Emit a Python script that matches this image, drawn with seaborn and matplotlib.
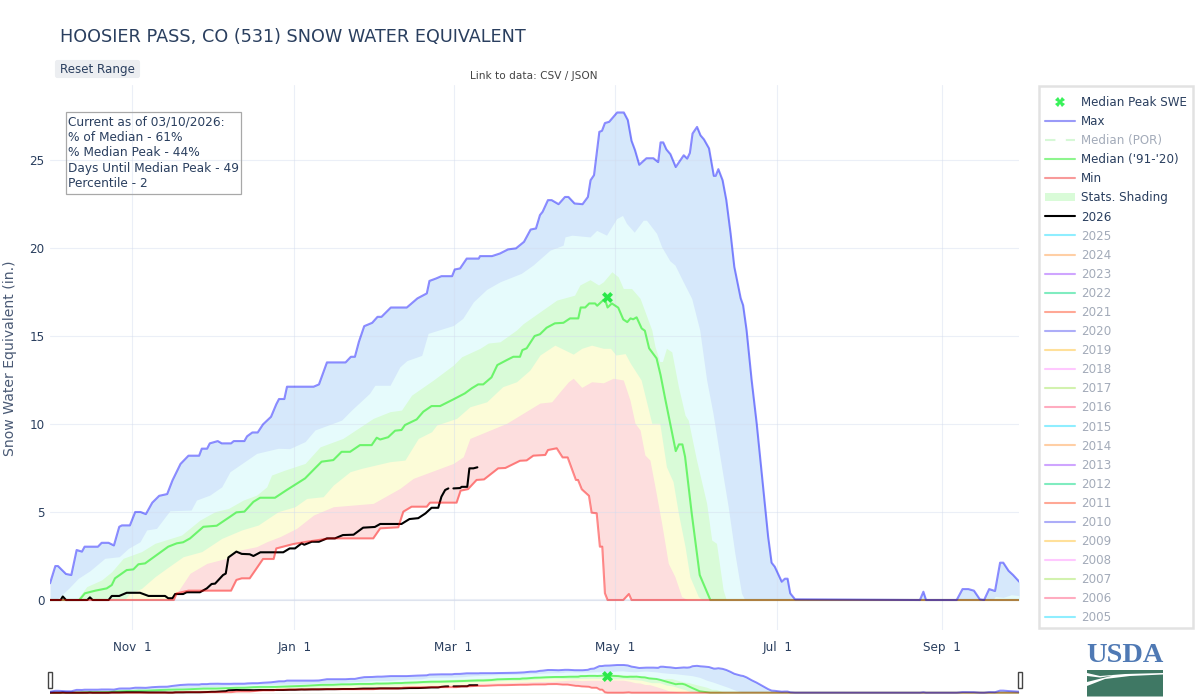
import numpy as np
import pandas as pd
import seaborn as sns
import matplotlib
matplotlib.use("Agg")
import matplotlib.pyplot as plt
from matplotlib.lines import Line2D
from matplotlib.patches import Patch, Polygon, Rectangle, FancyBboxPatch

# (day since Oct 1, inches of SWE)
MAX_SWE = [(0,.95),(2,1.93),(3,1.93),(6,1.48),(8,1.42),(10,2.84),(12,2.75),(13,3.03),(18,3.03),(19.4,3.25),(22,3.25),(24,3.1),(26,4.16),(27,4.24),(30,4.24),(32,5.0),(34,5.0),(36,4.88),(38.4,5.53),(41,5.92),(44,6.02),(46,6.8),(49,7.73),(52,8.2),(56,8.2),(57,8.6),(59,8.6),(60,8.9),(63,9.03),(64.5,8.9),(68,8.9),(69,9.03),(73,9.03),(74,9.3),(76,9.52),(78,9.52),(80,9.98),(83,10.41),(85,11.13),(86,11.42),(88,11.42),(89,12.12),(99,12.12),(101,12.25),(104,13.5),(111,13.5),(113,13.82),(114.5,13.82),(116,14.67),(118,15.56),(121,15.75),(123,16.09),(124.5,16.09),(128,16.62),(134,16.62),(138,17.14),(141.5,17.42),(142.5,18.13),(145,18.27),(147,18.4),(151,18.4),(152,18.78),(154,18.84),(156.5,19.4),(161,19.4),(161.5,19.54),(166,19.54),(169,19.69),(172,19.92),(175,19.98),(178,20.35),(180.5,21.05),(182.5,21.11),(184,21.87),(185,22.06),(187,22.72),(188.4,22.72),(191,22.49),(193.4,22.9),(194.7,22.9),(197,22.53),(200,22.49),(202,22.9),(203,23.85),(204.3,24.14),(205.3,25.37),(206.3,26.6),(207.3,26.66),(208.4,27.1),(210,27.17),(213,27.7),(215.5,27.7),(217,27.27),(218.4,26.09),(219.7,25.56),(221.3,24.73),(224,25.1),(226.6,25.1),(228.4,24.88),(229.3,26.0),(230.3,26.0),(231.5,25.6),(233,25.33),(235,24.6),(238,25.27),(239.3,25.08),(240.3,25.4),(241.3,26.5),(243,26.88),(244.3,26.4),(245.6,26.17),(247.5,25.66),(249.3,24.1),(250,24.1),(251,24.48),(252.6,23.85),(254,22.72),(255.6,20.83),(257,18.93),(259.4,17.14),(260.3,16.75),(261.6,15.34),(263.5,12.5),(265.4,10.04),(269.7,3.6),(271,2.12),(272.2,1.89),(274.8,1.04),(276,1.21),(277,1.21),(278,.38),(279.8,.04),(326.7,0),(328,.47),(329,0),(340.5,0),(342.7,.62),(344.9,.62),(347,.53),(349.2,.04),(350.8,0),(352.7,.62),(354.9,.51),(356.8,2.12),(358,2.12),(360,1.66),(361.7,1.42),(364,1.04)]
P90_SWE = [(0,0),(3,.1),(7,.66),(10.6,1.23),(15,1.66),(20.6,2.37),(26,2.46),(29.4,2.93),(33.8,3.31),(36.3,3.98),(40,4.07),(45,5.07),(53,5.11),(55,5.68),(60,5.96),(64.5,6.43),(67.6,7.29),(73,7.85),(77.6,8.33),(85.7,8.62),(90,8.6),(95.8,9.0),(99.5,9.66),(109.5,10.22),(113.3,10.8),(120,11.74),(122,12.2),(127.7,12.2),(131.4,13.25),(134,13.6),(139.6,13.9),(142,15.15),(151.5,15.6),(155,16.0),(159,16.94),(164,17.65),(169,18.08),(177,18.56),(181.4,19.03),(187.8,19.88),(192.7,20.16),(193.4,20.63),(196,20.73),(202.8,20.63),(205.3,21.0),(209,20.73),(212.8,21.67),(215,21.85),(216.5,21.4),(219.4,20.9),(222.8,21.58),(224,21.58),(227.8,20.83),(229.7,20.07),(232.8,19.27),(234.7,19.03),(237.8,18.08),(241,17.13),(244,15.34),(246.6,12.5),(249,10.6),(251.6,8.14),(254.7,5.3),(257.2,2.65),(259.7,.38),(261,0),(354,0),(355,.2),(358,.15),(361,.3),(364,.25)]
P70_SWE = [(0,0),(10,0),(13.8,.76),(19.4,1.14),(23.2,1.61),(27.5,2.37),(34.4,2.75),(39.4,3.22),(49.4,3.69),(56.3,4.54),(62,5.02),(67,5.2),(72.6,5.68),(77.6,5.96),(81.4,6.43),(83.2,7.1),(88.2,7.38),(95.8,7.76),(101.4,8.7),(110,9.18),(121.4,10.32),(127.7,10.7),(132,10.79),(135.8,11.64),(144,12.5),(151.5,13.35),(154.6,13.82),(161.5,14.3),(164.6,14.6),(169,14.67),(175.2,15.34),(177.7,15.7),(184,16.37),(190.3,17.04),(197,17.32),(199,17.9),(202.8,18.2),(206,17.9),(207.8,18.08),(211,18.65),(213.4,18.36),(215.3,17.7),(218.4,17.7),(221.6,17.14),(226,15.34),(227.2,14.4),(229,13.55),(230,13.55),(231.5,14.3),(233.5,14.1),(236,12.12),(238.5,10.5),(239.7,10.22),(242.8,7.95),(246.6,5.49),(248.5,3.41),(250.3,3.22),(252.8,.57),(254,0),(364,0)]
P30_SWE = [(0,0),(28,0),(30,.38),(34.4,.66),(39.4,1.32),(43.8,1.8),(50,2.46),(57,2.75),(64.5,3.5),(72,3.98),(78.2,4.26),(85.7,5.02),(92,5.3),(96.4,5.77),(102.6,5.87),(106.4,6.53),(112.7,7.29),(117,7.48),(127.7,7.86),(133.3,7.95),(138.3,9.18),(143.3,9.56),(145.2,9.94),(152.7,10.32),(157.7,10.98),(164,11.26),(170,12.12),(175.2,12.4),(180.2,13.06),(184,13.92),(189.6,14.48),(196.5,13.97),(199.7,14.3),(203.4,14.48),(207.8,14.3),(210.5,14.3),(212.5,13.92),(216,14.0),(218,13.44),(222,12.5),(226,10.04),(229,10.04),(231.5,7.57),(234,6.72),(236,4.92),(238.5,3.03),(240.3,1.32),(243.5,.19),(245,0),(364,0)]
P10_SWE = [(0,0),(46,0),(47.6,.38),(52.6,1.52),(58.9,2.08),(66.3,2.37),(71.4,2.84),(77.6,3.03),(81.4,3.31),(86.4,3.6),(92.6,4.07),(99,4.83),(106.4,5.3),(121.4,5.49),(131.4,6.34),(136.4,6.91),(151.5,7.76),(155.2,8.14),(157.7,9.18),(171.5,10.04),(184,11.19),(188.4,11.26),(191.5,11.83),(194.7,12.4),(196.5,12.6),(199.7,12.08),(203.4,12.4),(207.8,12.34),(211.5,12.6),(215.3,12.5),(217.8,11.36),(219.7,10.04),(221.6,9.66),(223.4,8.24),(225.3,7.95),(227.2,6.43),(229.7,4.36),(232.2,2.08),(234.7,1.32),(237.2,.19),(239.6,0),(364,0)]
MEDIAN_SWE = [(0,0),(11,0),(13.1,.38),(17,.53),(21.3,.66),(23.2,.85),(24.4,1.23),(28.8,1.7),(31.3,1.74),(33.2,2.03),(35.7,2.08),(44.4,3.03),(47.6,3.22),(50,3.28),(52.6,3.5),(57.6,4.16),(62.6,4.22),(67.6,4.73),(70,4.98),(73,5.02),(76.4,5.58),(78.9,5.81),(84.5,5.81),(88.9,6.25),(95.8,6.91),(99.5,7.48),(102,7.86),(106.4,7.95),(109.5,8.42),(112.7,8.42),(116.4,8.8),(120.8,8.8),(122.7,9.22),(124,9.12),(127,9.25),(129.6,9.62),(132,9.66),(133.3,9.94),(137.7,10.26),(140.2,10.7),(143.3,11.02),(146.5,11.02),(151.5,11.4),(155.8,11.74),(158.4,12.03),(160.8,12.25),(162.7,12.25),(165.8,12.65),(168,13.35),(171.5,13.63),(174,13.82),(176.5,13.82),(177.4,14.2),(179,14.3),(182,15.0),(184,15.1),(186.5,15.47),(189.6,15.72),(192.8,15.75),(195.3,16.0),(198.4,16.0),(199.3,16.62),(201,16.62),(202.5,16.85),(204.7,16.85),(205.5,16.72),(207.8,17.04),(208.5,17.04),(209.4,16.62),(211,16.85),(213.4,16.61),(215.3,15.94),(216.8,15.79),(218,16.0),(219,15.95),(220.3,16.06),(222.2,15.43),(223.4,15.3),(225,14.3),(227.8,13.73),(229.3,12.78),(231,11.46),(233.4,9.66),(235,8.46),(236.2,8.84),(237.5,8.84),(238.5,8.14),(241,4.92),(244,1.42),(248,0),(364,0)]
MIN_SWE = [(0,0),(46.5,0),(47.6,.38),(52,.53),(68,.53),(70,1.14),(72,1.23),(75,1.23),(77.6,1.8),(80,2.33),(84,2.33),(85,2.93),(91.4,3.18),(96.4,3.31),(105,3.5),(121.4,3.5),(124,4.07),(130.8,4.13),(132.7,5.02),(135.8,5.3),(141.5,5.3),(142.7,5.53),(152.7,5.53),(154.2,6.21),(157,6.3),(160.2,6.82),(163,6.85),(168.3,7.48),(171,7.5),(176.5,7.91),(179,7.93),(181.5,8.2),(186,8.24),(187,8.52),(190.3,8.62),(192.5,8.1),(194.4,8.1),(197.5,6.82),(198.3,6.82),(199.7,6.29),(202.4,5.92),(203.4,4.96),(205.3,4.93),(206.5,3.03),(207.4,3.03),(208.4,.38),(209.4,0),(215.3,0),(217.4,.34),(218.4,0),(364,0)]
WY2026_A = [(0,0),(4,0),(4.8,.2),(6,0),(14,0),(15,.15),(16,0),(22,0),(23.2,.23),(26,.23),(28.8,.41),(33.8,.41),(37,.23),(43.2,.23),(44.4,.1),(46,.1),(47,.34),(50,.34),(51.3,.44),(56.3,.44),(58.9,.66),(60.7,.91),(62,.93),(65,1.42),(66,1.5),(67,2.42),(70,2.75),(72,2.62),(75,2.6),(76.4,2.5),(79,2.71),(87.6,2.71),(90,2.93),(92,2.93),(94.5,3.22),(95.5,3.14),(98.3,3.31),(101,3.31),(104,3.5),(107,3.5),(110,3.69),(114,3.71),(117.6,4.11),(122,4.15),(124,4.32),(132,4.32),(135,4.6),(138.3,4.65),(141,4.92),(143.3,5.24),(145.8,5.24),(147,5.87),(148.4,6.25),(149.6,6.34)]
WY2026_B = [(151.5,6.34),(154,6.36),(154.6,6.43),(156.7,6.43),(157.5,7.48),(159,7.48),(160.5,7.54)]
PEAK_DAY = [209]
PEAK_SWE = [17.2]

DAY_FIX = 1.003  # knots were read at a scale slightly off the 366-day axis
TICK_DAYS = [31, 92, 152, 213, 274, 336]
TICK_NAMES = ["Nov  1", "Jan  1", "Mar  1", "May  1", "Jul  1", "Sep  1"]
Y_TICKS = [0, 5, 10, 15, 20, 25]

YEARS = [str(y) for y in range(2025, 2004, -1)]
YEAR_COLORS = ["#8feeff", "#ffcfa5", "#cfa5ff", "#80ecc0", "#ffa896", "#adadf8", "#ffe09a", "#ffc8ff", "#d2f2ae", "#ffacc0",
               "#8feeff", "#ffcfa5", "#cfa5ff", "#80ecc0", "#ffa896", "#adadf8", "#ffe09a", "#ffc8ff", "#d2f2ae", "#ffacc0", "#8feeff"]

NOTE = "Current as of 03/10/2026:\n% of Median - 61%\n% Median Peak - 44%\nDays Until Median Peak - 49\nPercentile - 2"
INK = "#2a3f5f"
DIM = "#a3abb9"

BAND_COLORS = ["#d6e8fb", "#e6fbfc", "#d9fbd8", "#fcfcd8", "#fddede", "#ffffff"]
BLUE, GREEN, RED = "#0000ff", "#00ee00", "#ff0000"


def xy(pairs):
    a = np.array(pairs, dtype=float)
    return a[:, 0] * DAY_FIX, a[:, 1]


def draw_series(ax, lw):
    for pairs, c in zip([MAX_SWE, P90_SWE, P70_SWE, P30_SWE, P10_SWE, MIN_SWE], BAND_COLORS):
        x, y = xy(pairs)
        ax.fill_between(x, 0, y, color=c, lw=0, zorder=1)
    for pairs, c, a, z in [(MEDIAN_SWE, GREEN, .5, 2.1), (WY2026_A, "black", 1, 2.2), (WY2026_B, "black", 1, 2.2),
                           (MIN_SWE, RED, .45, 2.3), (MAX_SWE, BLUE, .45, 2.4)]:
        x, y = xy(pairs)
        sns.lineplot(x=x, y=y, ax=ax, color=c, alpha=a, lw=lw, sort=False, estimator=None, legend=False, zorder=z)
    sns.scatterplot(x=np.array(PEAK_DAY) * DAY_FIX, y=PEAK_SWE, ax=ax, marker="X", s=62, color="#2be84a",
                    edgecolor="#2be84a", linewidth=0, zorder=3, legend=False)
    ax.set_xlim(0, 365)
    ax.set_xlabel("")
    ax.set_ylabel("")
    for s in ax.spines.values():
        s.set_visible(False)


sns.set_theme(style="white")
plt.rcParams["font.family"] = ["DejaVu Sans"]
fig = plt.figure(figsize=(12, 7), dpi=100)
W, H = 1200.0, 700.0


def box(l, t, r, b):
    return [l / W, 1 - b / H, (r - l) / W, (b - t) / H]


ax = fig.add_axes(box(50, 85, 1019, 630))
draw_series(ax, 1.5)
ax.set_ylim((600 - 630) / 17.6, (600 - 85) / 17.6)
ax.set_axisbelow("line")
ax.grid(True, color="#d3dcee", alpha=.45, lw=.8)
ax.axhline(0, color="#d3dcee", alpha=.45, lw=1.5, zorder=1.5)
ax.set_xticks(TICK_DAYS, TICK_NAMES)
ax.set_yticks(Y_TICKS)
ax.tick_params(axis="both", length=0, labelsize=8.64, labelcolor=INK)
ax.tick_params(axis="x", pad=8)
ax.tick_params(axis="y", pad=4)
fig.text(10 / W, 1 - 358 / H, "Snow Water Equivalent (in.)", rotation=90, va="center", ha="center", fontsize=10.1, color="#4a5a75")

mini = fig.add_axes(box(50, 662, 1019, 695))
draw_series(mini, 1.4)
mini.set_ylim(-2.3, 30.7)
mini.set_xticks([])
mini.set_yticks([])
mini.patch.set_alpha(0)

over = fig.add_axes([0, 0, 1, 1], zorder=5)
over.set_xlim(0, W)
over.set_ylim(H, 0)
over.axis("off")
over.text(60, 37, "HOOSIER PASS, CO (531) SNOW WATER EQUIVALENT", fontsize=12.68, color=INK, va="center", ha="left")
over.add_patch(FancyBboxPatch((55.5, 60.5), 84, 17, boxstyle="round,pad=0,rounding_size=2", fc="#eceef1", ec="#eceef1", lw=.8))
over.text(60, 69, "Reset Range", fontsize=8.6, color=INK, va="center", ha="left")
over.text(534, 76, "Link to data: CSV / JSON", fontsize=7.6, color="#444444", va="center", ha="center")
over.add_patch(Rectangle((65.5, 112), 175, 82, fc="none", ec="#a8a8a8", lw=.9))
over.text(68, 153, NOTE, fontsize=8.75, color=INK, va="center", ha="left", linespacing=1.24)

for l in (47.5, 1017.5):
    over.add_patch(Rectangle((l, 672), 4.2, 15.5, fc="white", ec="#444444", lw=1))

# legend frame
over.add_patch(Rectangle((1039, 86), 154, 542, fc="none", ec="#e2e2e2", lw=1.8))

# USDA mark
LOGO_BLUE, LOGO_GREEN = "#4f79b4", "#3f7864"
over.text(1125, 655.5, "USDA", fontsize=20.4, weight="bold", family="Liberation Serif", color=LOGO_BLUE, ha="center", va="center")
over.add_patch(Polygon([(1087, 670), (1163, 670), (1163, 673), (1125, 674), (1100, 676), (1087, 673)], fc=LOGO_GREEN, ec="none"))
over.add_patch(Polygon([(1087, 676), (1100, 677.5), (1113, 675.5), (1087, 682)], fc=LOGO_GREEN, ec="none"))
over.add_patch(Polygon([(1087, 686), (1105, 679), (1130, 676), (1163, 674.5), (1163, 696.5), (1087, 696.5)], fc=LOGO_GREEN, ec="none"))

handles = [Line2D([], [], marker="X", ls="none", color="#39f25a", markersize=7, markeredgewidth=0),
           Line2D([], [], color="#9a9af8", lw=1.5),
           Line2D([], [], color="#d6f8d6", lw=1.5, dashes=(5, 5)),
           Line2D([], [], color="#8ef58e", lw=1.5),
           Line2D([], [], color="#f89a9a", lw=1.5),
           Patch(fc="#d9fbd8", ec="none"),
           Line2D([], [], color="black", lw=1.5)]
handles += [Line2D([], [], color=c, lw=1.5) for c in YEAR_COLORS]
labels = ["Median Peak SWE", "Max", "Median (POR)", "Median ('91-'20)", "Min", "Stats. Shading", "2026"] + YEARS
colors = [INK, INK, DIM, INK, INK, INK, INK] + [DIM] * len(YEARS)
leg = fig.legend(handles, labels, loc="upper left", bbox_to_anchor=(1045 / W, 1 - 96 / H), bbox_transform=fig.transFigure,
                 borderaxespad=0, fontsize=8.6, labelcolor=colors, frameon=False,
                 handlelength=2.53, handletextpad=.5, labelspacing=.51, borderpad=0)

fig.savefig("out.png", dpi=100)
